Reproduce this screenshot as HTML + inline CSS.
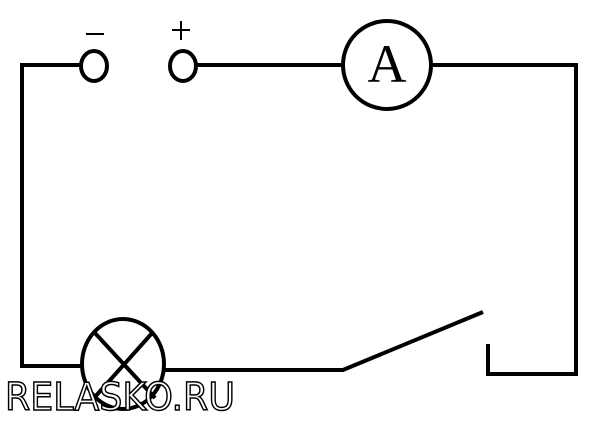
<!DOCTYPE html>
<html><head><style>body{margin:0;background:#fff}</style></head><body>
<svg width="608" height="420" xmlns="http://www.w3.org/2000/svg">
<g fill="none" stroke="#000" stroke-width="4">
<polyline points="22,368 22,65 81,65"/>
<ellipse cx="94" cy="66" rx="13" ry="15"/>
<ellipse cx="183" cy="66" rx="13" ry="15"/>
<line x1="196" y1="65" x2="343" y2="65"/>
<ellipse cx="387" cy="65" rx="44" ry="44"/>
<polyline points="431,65 576,65 576,374 488,374 488,344"/>
<line x1="22" y1="366" x2="82" y2="366"/>
<ellipse cx="123" cy="364" rx="41" ry="45"/>
<line x1="94" y1="332" x2="155" y2="398"/>
<line x1="153" y1="332" x2="94" y2="398"/>
<polyline points="164,370 343,370 483,312"/>
<line x1="86" y1="34" x2="104" y2="34" stroke-width="2"/>
<line x1="172" y1="30" x2="190" y2="30" stroke-width="2"/>
<line x1="181" y1="21" x2="181" y2="40" stroke-width="2"/>
</g>
<text x="387" y="82" font-family="Liberation Serif, serif" font-size="54" text-anchor="middle">A</text>
<text x="5" y="410" font-family="DejaVu Sans, sans-serif" font-size="38" fill="#fff" stroke="#000" stroke-width="1.5" textLength="230" lengthAdjust="spacingAndGlyphs">RELASKO.RU</text>
</svg>
</body></html>
